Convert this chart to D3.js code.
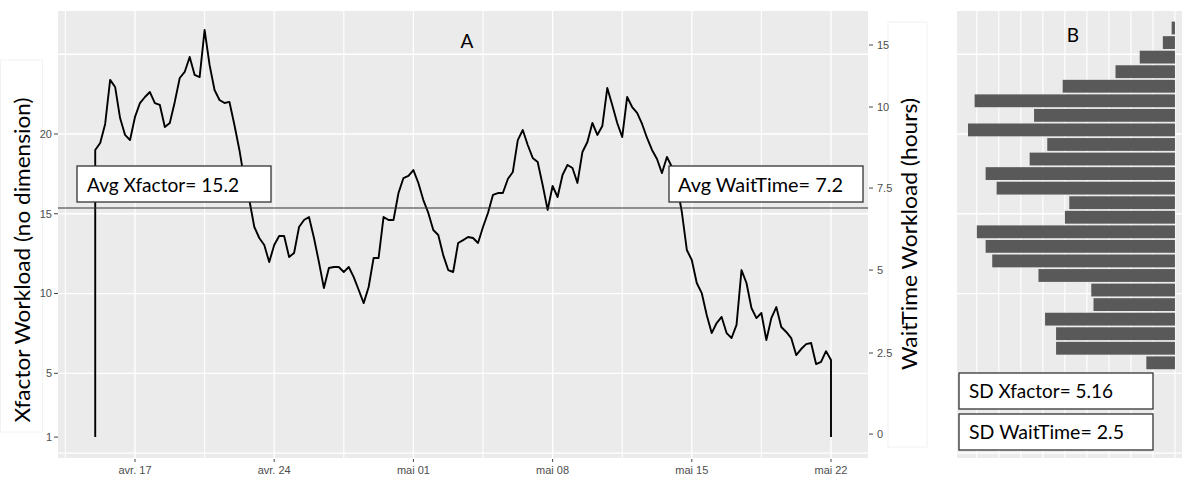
<!DOCTYPE html>
<html><head><meta charset="utf-8">
<script src="https://cdn.jsdelivr.net/npm/d3@7"></script>
<style>body{margin:0;background:#fff} svg{display:block}</style>
</head><body><svg id="c" width="1182" height="478"></svg>
<script>
// ---------------- DATA ----------------
const seriesStart = "2017-04-15T00:00:00Z";
const stepHours = 6;
const xfactorValues = [
 19.0,19.44,20.63,23.39,22.95,21.0,19.94,19.62,21.07,21.94,
 22.32,22.63,21.94,21.82,20.44,20.69,22.01,23.51,23.89,24.83,
 23.70,23.57,26.52,24.33,22.76,22.13,21.94,22.01,20.56,19.0,
 17.12,15.86,14.17,13.48,13.04,11.97,13.04,13.61,13.61,12.29,
 12.54,14.17,14.61,14.80,13.48,11.97,10.34,11.60,11.66,11.66,
 11.35,11.66,11.03,10.22,9.40,10.41,12.23,12.23,14.80,14.61,
 14.61,16.30,17.24,17.37,17.74,16.93,15.86,15.05,13.98,13.67,
 12.41,11.47,11.35,13.17,13.35,13.54,13.48,13.17,14.17,15.05,
 16.18,16.30,16.30,17.18,17.62,19.62,20.25,19.31,18.50,18.24,
 16.80,15.24,16.74,16.05,17.43,18.06,17.87,16.93,18.87,19.50,
 20.69,19.94,20.50,22.88,21.82,20.69,19.81,22.32,21.69,21.32,
 20.63,19.75,19.0,18.43,17.55,18.56,17.93,16.80,15.11,12.73,
 12.10,10.66,10.03,8.65,7.52,8.15,8.53,7.52,7.21,8.03,
 11.47,10.66,9.09,8.46,8.78,7.08,8.46,9.15,7.90,7.59,
 7.21,6.14,6.52,6.83,6.90,5.58,5.71,6.39,5.83
];
const edgeValue = 1;              // series drops to this value at both ends
const avgLineValue = 15.36;       // horizontal average line (left-axis units)
const leftTicks = [1, 5, 10, 15, 20];
const leftGrid = [0, 5, 10, 15, 20, 25];
const rightTicks = [0, 2.5, 5, 7.5, 10, 15];
const rightTickLabels = ["0", "2.5", "5", "7.5", "10", "15"];
const rightTickLeftEquiv = [1.19, 6.27, 11.47, 16.61, 21.69, 25.58];
const dateTicks = ["2017-04-17", "2017-04-24", "2017-05-01", "2017-05-08", "2017-05-15", "2017-05-22"];
const dateTickLabels = ["avr. 17", "avr. 24", "mai 01", "mai 08", "mai 15", "mai 22"];
const dateMinorGrid = ["2017-04-13T12:00:00Z", "2017-04-20T12:00:00Z", "2017-04-27T12:00:00Z", "2017-05-04T12:00:00Z", "2017-05-11T12:00:00Z", "2017-05-18T12:00:00Z"];
const xDomain = ["2017-04-13T03:04:00Z", "2017-05-23T20:40:00Z"];
const yLeftDomain = [-0.31, 27.71];

const histBins = ["5.2","6.1","7.0","7.9","8.8","9.8","10.7","11.6","12.5","13.4","14.3","15.2",
                  "16.1","17.0","18.0","18.9","19.8","20.7","21.6","22.5","23.4","24.3","25.2","26.2"];
const histCounts = [13, 54, 54, 59, 37, 38, 62, 83, 86, 90, 50, 48,
                    81, 86, 66, 58, 94, 64, 91, 51, 27, 16, 5.5, 1.5];
const histRange = [5.2, 27.1];
const histXDomain = [-3.2, 99];
const histGrid = [0, 10, 20, 30, 40, 50, 60, 70, 80, 90];

const avgLabels = ["Avg Xfactor= 15.2", "Avg WaitTime= 7.2"];
const sdLabels = ["SD Xfactor= 5.16", "SD WaitTime= 2.5"];
const leftTitle = "Xfactor Workload (no dimension)";
const rightTitle = "WaitTime Workload (hours)";

// ---------------- LAYOUT ----------------
const A = {x0: 58, x1: 868, y0: 11, y1: 458};
const B = {x0: 957, x1: 1182, y0: 11, y1: 458};
const panelBg = "#EBEBEB";
const tickFont = "'Liberation Sans', Arial, sans-serif";
const bigFont = "Lato, 'Open Sans', sans-serif";

const svg = d3.select("#c");
const parse = s => new Date(s.length === 10 ? s + "T00:00:00Z" : s);

const x = d3.scaleUtc().domain(xDomain.map(parse)).range([A.x0, A.x1]);
const yL = d3.scaleLinear().domain(yLeftDomain).range([A.y1, A.y0]);
const rightMap = d3.scaleLinear().domain(rightTicks).range(rightTickLeftEquiv);
const yR = v => yL(rightMap(v));

// axis-title boxes (faint)
svg.append("rect").attr("x", 0.5).attr("y", 60).attr("width", 42).attr("height", 372)
  .attr("fill", "#fff").attr("stroke", "#f2f2f2");
svg.append("rect").attr("x", 888).attr("y", 22).attr("width", 39).attr("height", 425)
  .attr("fill", "#fff").attr("stroke", "#f2f2f2");

// ---------- Panel A ----------
const gA = svg.append("g");
gA.append("rect").attr("x", A.x0).attr("y", A.y0).attr("width", A.x1 - A.x0).attr("height", A.y1 - A.y0).attr("fill", panelBg);
gA.selectAll(".hg").data(leftGrid).join("line")
  .attr("x1", A.x0).attr("x2", A.x1).attr("y1", d => yL(d)).attr("y2", d => yL(d))
  .attr("stroke", "#fff").attr("stroke-width", 1.3);
gA.selectAll(".vmg").data(dateMinorGrid.map(parse)).join("line")
  .attr("x1", d => x(d)).attr("x2", d => x(d)).attr("y1", A.y0).attr("y2", A.y1)
  .attr("stroke", "#fff").attr("stroke-width", 1.1);
gA.selectAll(".vg").data(dateTicks.map(parse)).join("line")
  .attr("x1", d => x(d)).attr("x2", d => x(d)).attr("y1", A.y0).attr("y2", A.y1)
  .attr("stroke", "#fff").attr("stroke-width", 1.3);

// series
const t0 = parse(seriesStart).getTime();
const pts = xfactorValues.map((v, i) => ({date: new Date(t0 + i * stepHours * 3600e3), v}));
const series = [{date: pts[0].date, v: edgeValue}, ...pts, {date: pts[pts.length - 1].date, v: edgeValue}];
svg.append("clipPath").attr("id", "clipA").append("rect")
  .attr("x", A.x0).attr("y", A.y0).attr("width", A.x1 - A.x0).attr("height", A.y1 - A.y0);
gA.append("path").datum(series).attr("clip-path", "url(#clipA)")
  .attr("d", d3.line().x(d => x(d.date)).y(d => yL(d.v)))
  .attr("fill", "none").attr("stroke", "#000").attr("stroke-width", 1.9).attr("stroke-linejoin", "round");

// average line
gA.append("line").attr("x1", A.x0).attr("x2", A.x1).attr("y1", yL(avgLineValue)).attr("y2", yL(avgLineValue))
  .attr("stroke", "#333").attr("stroke-width", 1.2);

// left axis
const gl = svg.append("g");
gl.selectAll("line").data(leftTicks).join("line")
  .attr("x1", A.x0 - 4).attr("x2", A.x0).attr("y1", d => yL(d)).attr("y2", d => yL(d)).attr("stroke", "#444");
gl.selectAll("text").data(leftTicks).join("text")
  .attr("x", A.x0 - 6).attr("y", d => yL(d)).attr("dy", "0.35em").attr("text-anchor", "end")
  .attr("font-family", tickFont).attr("font-size", 11).attr("fill", "#4d4d4d").text(d => d);

// right axis
const gr = svg.append("g");
gr.selectAll("line").data(rightTicks).join("line")
  .attr("x1", A.x1 + 1).attr("x2", A.x1 + 5).attr("y1", d => yR(d)).attr("y2", d => yR(d)).attr("stroke", "#444");
gr.selectAll("text").data(rightTicks).join("text")
  .attr("x", A.x1 + 9).attr("y", d => yR(d)).attr("dy", "0.35em")
  .attr("font-family", tickFont).attr("font-size", 11).attr("fill", "#4d4d4d")
  .text((d, i) => rightTickLabels[i]);

// bottom axis
const gb = svg.append("g");
gb.selectAll("line").data(dateTicks.map(parse)).join("line")
  .attr("x1", d => x(d)).attr("x2", d => x(d)).attr("y1", A.y1 + 1).attr("y2", A.y1 + 4).attr("stroke", "#444");
gb.selectAll("text").data(dateTicks.map(parse)).join("text")
  .attr("x", d => x(d)).attr("y", A.y1 + 16).attr("text-anchor", "middle")
  .attr("font-family", tickFont).attr("font-size", 11).attr("fill", "#4d4d4d")
  .text((d, i) => dateTickLabels[i]);

// axis titles
svg.append("text").attr("transform", "translate(30,260) rotate(-90)").attr("text-anchor", "middle")
  .attr("font-family", bigFont).attr("font-size", 22).attr("fill", "#000")
  .attr("textLength", 325).attr("lengthAdjust", "spacingAndGlyphs").text(leftTitle);
svg.append("text").attr("transform", "translate(917,234) rotate(-90)").attr("text-anchor", "middle")
  .attr("font-family", bigFont).attr("font-size", 22).attr("fill", "#000")
  .attr("textLength", 272).attr("lengthAdjust", "spacingAndGlyphs").text(rightTitle);

// panel title
svg.append("text").attr("x", 467).attr("y", 48).attr("text-anchor", "middle")
  .attr("font-family", bigFont).attr("font-size", 19).text("A");

// annotation boxes
function labelBox(bx, by, bw, bh, txt, tx, ty, tl) {
  svg.append("rect").attr("x", bx).attr("y", by).attr("width", bw).attr("height", bh)
    .attr("fill", "#fff").attr("stroke", "#333").attr("stroke-width", 1.3);
  svg.append("text").attr("x", tx).attr("y", ty).attr("font-family", bigFont).attr("font-size", 19)
    .attr("fill", "#000").attr("textLength", tl).attr("lengthAdjust", "spacingAndGlyphs").text(txt);
}
labelBox(77, 166, 194, 36, avgLabels[0], 87, 192, 152);
labelBox(669, 166, 194, 36, avgLabels[1], 678, 192, 165);

// ---------- Panel B ----------
const xB = d3.scaleLinear().domain(histXDomain).range([B.x1, B.x0]);
const yB = d3.scaleBand().domain(histBins).range([yL(histRange[0]), yL(histRange[1])]).paddingInner(0.12).paddingOuter(0.06);
const gB = svg.append("g");
gB.append("rect").attr("x", B.x0).attr("y", B.y0).attr("width", B.x1 - B.x0).attr("height", B.y1 - B.y0).attr("fill", panelBg);
gB.selectAll(".hg").data(leftGrid).join("line")
  .attr("x1", B.x0).attr("x2", B.x1).attr("y1", d => yL(d)).attr("y2", d => yL(d))
  .attr("stroke", "#fff").attr("stroke-width", 1.3);
gB.selectAll(".vg").data(histGrid).join("line")
  .attr("x1", d => xB(d)).attr("x2", d => xB(d)).attr("y1", B.y0).attr("y2", B.y1)
  .attr("stroke", "#fff").attr("stroke-width", 1.1);
gB.selectAll(".bar").data(histBins).join("rect")
  .attr("x", (d, i) => xB(histCounts[i])).attr("width", (d, i) => xB(0) - xB(histCounts[i]))
  .attr("y", d => yB(d)).attr("height", yB.bandwidth())
  .attr("fill", "#595959");
svg.append("text").attr("x", 1073).attr("y", 42).attr("text-anchor", "middle")
  .attr("font-family", bigFont).attr("font-size", 19).text("B");
labelBox(959, 373, 194, 36, sdLabels[0], 969, 398, 144);
labelBox(959, 414, 194, 36, sdLabels[1], 969, 439, 155);
</script></body></html>
